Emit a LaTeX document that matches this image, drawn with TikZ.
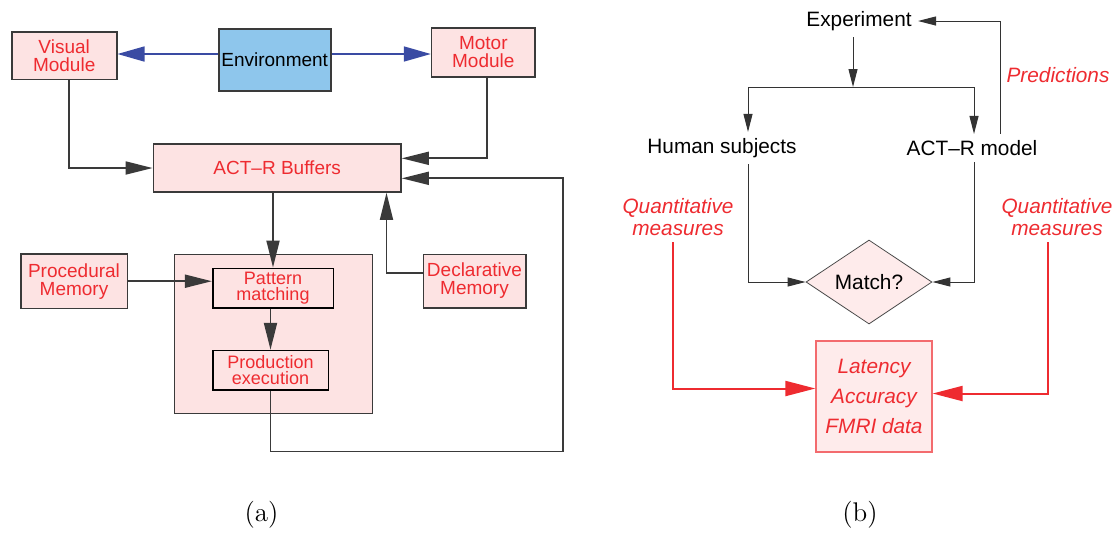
\documentclass[tikz,border=0pt]{standalone}
\usepackage{fontspec}
\setsansfont{Liberation Sans}
\usepackage{tikz}
\usetikzlibrary{arrows.meta,calc,shapes.geometric}
\definecolor{pinkbox}{HTML}{FDE3E3}
\definecolor{redtext}{HTML}{EE2B30}
\definecolor{envblue}{HTML}{8EC6EC}
\definecolor{arrowblue}{HTML}{3A4BA3}
\definecolor{edge}{HTML}{3A3A3A}
\tikzset{>={Triangle[length=13.5pt,width=6.5pt]},
  modbox/.style={draw=edge,line width=0.8pt,fill=pinkbox,text=redtext,align=center,
    inner sep=1pt,font=\sffamily\fontsize{9.5}{9}\selectfont},
  link/.style={draw=edge,line width=0.9pt,->},
  flowtxt/.style={font=\sffamily\fontsize{10.4}{11}\selectfont,inner sep=3pt},
  redtxt/.style={text=redtext,align=center,inner sep=3pt,
    font=\sffamily\itshape\fontsize{10.4}{11}\selectfont},
  flow/.style={draw=black!80,line width=0.5pt,-{Triangle[length=9pt,width=4.5pt]}},
  redlink/.style={draw=redtext,line width=1pt,-{Triangle[length=15pt,width=7.5pt]}}
}
\begin{document}
\begin{tikzpicture}[x=0.5pt,y=-0.5pt]
      \useasboundingbox (0,0) rectangle (1117,532);
      \node[modbox,minimum width=52.5pt,minimum height=23.8pt] (vis) at (64.2,55.5)
      {Visual\\Module};
      \node[modbox,fill=envblue,text=black,minimum width=56pt,minimum height=31pt] (env)
      at (274.7,60) {Environment};
      \node[modbox,minimum width=51.7pt,minimum height=24.5pt] (mot) at (483.3,52.2)
      {Motor\\Module};
      \node[modbox,minimum width=123.8pt,minimum height=24pt] (buf) at (277.2,168)
      {ACT--R Buffers};
      \node[modbox,minimum width=53.3pt,minimum height=27.2pt] (proc) at (74,281.2)
      {Procedural\\Memory};
      \node[modbox,minimum width=51.2pt,minimum height=26.7pt] (dec) at (474.5,281)
      {Declarative\\Memory};
      \node[modbox,minimum width=99pt,minimum height=79.5pt] (core) at (273.3,333.8) {};
      \node[modbox,draw=black,minimum width=60.3pt,minimum height=19.7pt,inner sep=0.5pt,
      font=\sffamily\fontsize{9}{8.2}\selectfont] (pat) at (273,288) {Pattern\\matching};
      \node[modbox,draw=black,minimum width=57.8pt,minimum height=19.7pt,inner sep=0.5pt,
      font=\sffamily\fontsize{9}{8.2}\selectfont] (prod) at (270.5,370.3)
      {Production\\execution};

      \draw[->,arrowblue,line width=0.8pt,>={Triangle[length=13.5pt,width=7.5pt]}]
      (env.west |- 0,54) -- (vis.east |- 0,54);
      \draw[->,arrowblue,line width=0.8pt,>={Triangle[length=13.5pt,width=7.5pt]}]
      (env.east |- 0,54) -- (mot.west |- 0,54);
      \draw[link] ([xshift=2.5pt]vis.south) |- (buf.west);
      \draw[link] ([xshift=1.7pt]mot.south) |- ([yshift=4.85pt]buf.east);
      \draw[link] (pat.north |- buf.south) -- (pat.north);
      \draw[link] (proc.east) -- (proc.east -| pat.west);
      \draw[link] (pat.south -| prod.north) -- (prod.north);
      \draw[link] ([yshift=3.85pt]dec.west) -| ([xshift=-7.65pt]buf.south east);
      \coordinate (back) at (563.3,451.5);
      \draw[link] (prod.south) |- (back) |- ([yshift=-5.15pt]buf.east);

      \node[flowtxt] (exp) at (859,21) {Experiment};
      \node[flowtxt] (hum) at (722,148) {Human subjects};
      \node[flowtxt] (mod) at (972,148) {ACT--R model};
      \node[redtxt] (pred) at (1058,75) {Predictions};
      \node[redtxt] (qml) at (678,217) {Quantitative\\measures};
      \node[redtxt] (qmr) at (1057,217) {Quantitative\\measures};
      \node[diamond,draw=black!70,fill=pinkbox!70!white,minimum width=63pt,minimum height=42pt,
      inner sep=0pt,font=\sffamily\fontsize{10.4}{11}\selectfont] (match) at (869,282) {Match?};
      \node[draw=redtext!70,fill=pinkbox!70!white,line width=0.6pt,minimum width=58pt,
      minimum height=55.5pt,align=center,text=redtext,
      font=\sffamily\itshape\fontsize{10.4}{15}\selectfont] (res) at (874,396.5)
      {Latency\\Accuracy\\FMRI data};

      \coordinate (fork) at (853,87);
      \draw[flow] (exp.south -| fork) -- (fork);
      \draw[flow] (fork) -| ([xshift=13pt]hum.north);
      \draw[flow] (fork) -| ([xshift=1pt]mod.north);
      \draw[flow] ([xshift=14pt]mod.north) |- (exp.east);
      \draw[flow] ([xshift=13pt]hum.south) |- (match.west);
      \draw[flow] ([xshift=1pt]mod.south) |- (match.east);
      \draw[redlink] ([xshift=-2.5pt]qml.south) |- ([yshift=4pt]res.west);
      \draw[redlink] ([xshift=-4.5pt]qmr.south) |- ([yshift=1.5pt]res.east);

      \node[font=\fontsize{13.5}{15}\selectfont] (capa) at (261.5,515) {(a)};
      \node[font=\fontsize{13.5}{15}\selectfont] (capb) at (860,515) {(b)};
    \end{tikzpicture}
\end{document}
